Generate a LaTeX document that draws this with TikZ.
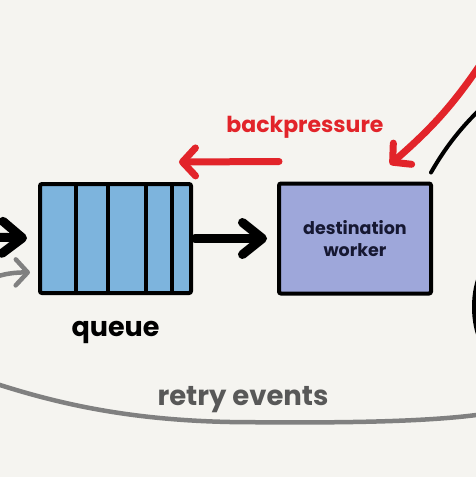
\documentclass[tikz,border=0pt]{standalone}
\usepackage{fontspec}
\setmainfont{Poppins}
\usetikzlibrary{arrows.meta,positioning,calc}
\definecolor{bgPaper}{RGB}{245,244,240}
\definecolor{queueBlue}{RGB}{125,180,221}
\definecolor{workerBlue}{RGB}{158,167,218}
\definecolor{pressRed}{RGB}{226,36,42}
\definecolor{retryGray}{RGB}{128,128,128}
\definecolor{retryText}{RGB}{88,88,88}
\definecolor{inkNavy}{RGB}{22,24,50}

\begin{document}
\begin{tikzpicture}[x=1pt,y=-1pt,every text node part/.style={align=center}]
\tikzset{myBox/.style={draw,line width=4pt,rounded corners=2pt,outer sep=0pt,inner sep=0pt}}
\tikzset{myLabel/.style={font=\bfseries\fontsize{27}{30}\selectfont}}
\tikzset{myArrow/.style={line width=9pt,line cap=round,-{Straight Barb[length=20pt,width=32pt,line cap=round,line join=round]}}}
\tikzset{myRed/.style={pressRed,line width=7pt,line cap=round,-{Straight Barb[length=13pt,width=28pt,line cap=round,line join=round]}}}
\tikzset{myGray/.style={retryGray,line width=4.5pt,line cap=round,-{Straight Barb[length=12pt,width=26pt,line cap=round,line join=round]}}}

\fill[bgPaper] (0,0) rectangle (476,477);
\useasboundingbox (0,0) rectangle (476,477);
\clip (0,0) rectangle (476,477);

\node[myBox,fill=queueBlue,minimum width=151pt,minimum height=109pt] (queue) at (115.5,238.5) {};
\foreach \dx in {36,68,106,132}
  \draw[line width=4pt] ($(queue.north west)+(\dx,0)$) -- ($(queue.south west)+(\dx,0)$);
\node[myBox,fill=workerBlue,minimum width=152pt,minimum height=110pt,right=88pt of queue,text=inkNavy,font=\bfseries\fontsize{17.5}{22}\selectfont] (worker) {destination\\worker};

\node[myLabel,below=25pt of queue] (qLabel) {queue};
\node[myLabel,text=pressRed,font=\bfseries\fontsize{22}{26}\selectfont] (bpLabel) at (305,127) {backpressure};
\node[myLabel,text=retryText,font=\bfseries\fontsize{27.5}{30}\selectfont] (retryLabel) at (243,400) {retry events};

\coordinate (leftIn) at (-40,236);
\coordinate (bpStart) at ($(worker.north west)+(0,-22)$);
\coordinate (bpEnd) at ($(queue.north east)+(-12,-22)$);
\coordinate (redTop) at (490,50);
\coordinate (redTip) at ($(worker.north)+(35,-19)$);
\coordinate (arcTop) at (490,100);
\coordinate (retryFrom) at (490,413);
\coordinate (retryIn) at ($(queue.west)+(0,34)$);

\draw[myArrow,shorten <=4pt,shorten >=12pt] (queue.east) -- (worker.west);
\draw[myArrow,shorten >=13pt] (leftIn) -- (queue.west);
\draw[myRed] (bpStart) -- (bpEnd);
\draw[myRed] (redTop) to[bend left=8] (redTip);
\draw[line width=4pt,line cap=round] ($(worker.north east)+(0,-11)$) .. controls (445,148) and (462,125) .. (arcTop);
\draw[line width=7pt] (483,272) .. controls (473,290) and (473,324) .. (483,342);
\draw[myGray,shorten >=10pt] (retryFrom) .. controls (430,423) and (320,423) .. (230,422) .. controls (130,420) and (60,404) .. (0,385) .. controls (-60,366) and (-60,272) .. (retryIn);
\end{tikzpicture}
\end{document}
